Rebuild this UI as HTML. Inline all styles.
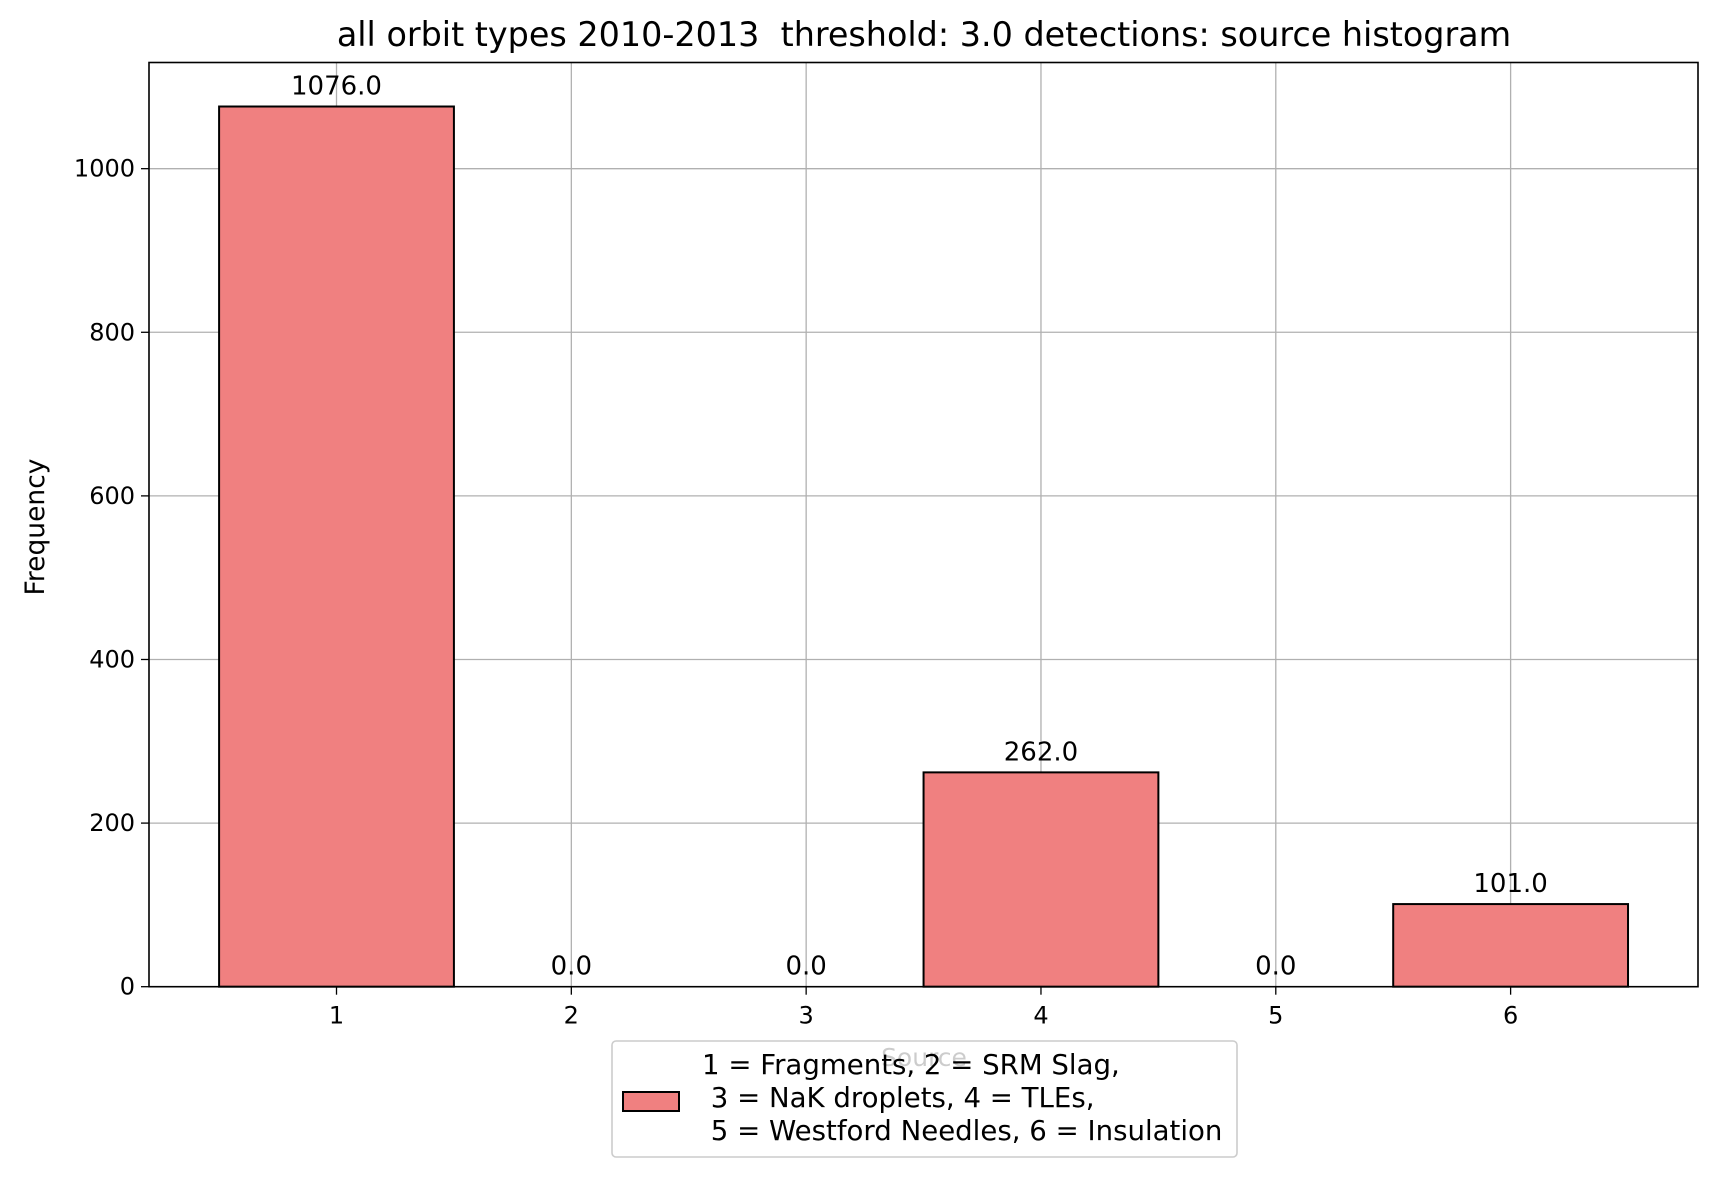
<!DOCTYPE html>
<html><head><meta charset="utf-8"><style>
html,body{margin:0;padding:0;background:#fff;}
svg{display:block;font-family:"DejaVu Sans","Liberation Sans",sans-serif;}
</style></head><body>
<svg id="chart" width="1719" height="1177" viewBox="0 0 1719 1177">
<text x="924" y="46" font-size="33.4" text-anchor="middle" fill="#000" xml:space="preserve">all orbit types 2010-2013  threshold: 3.0 detections: source histogram</text>
<g id="grid"></g>
<g id="bars"></g>
<g id="labels"></g>
<rect x="149" y="62.5" width="1549" height="924.2" fill="none" stroke="#000" stroke-width="1.6"/>
<g id="xticks"></g>
<g id="yticks"></g>
<text transform="translate(44,527) rotate(-90)" font-size="26.5" text-anchor="middle" fill="#000">Frequency</text>
<text x="924" y="1066" font-size="25" text-anchor="middle" fill="#000">Source</text>
<g>
<rect x="612" y="1041" width="625" height="116" rx="4" fill="#fff" fill-opacity="0.8" stroke="#ccc" stroke-width="1.6"/>
<rect x="623" y="1092" width="56" height="19" fill="#f08080" stroke="#000" stroke-width="2"/>
<g font-size="27.6" fill="#000">
<text x="702" y="1074" xml:space="preserve">1 = Fragments, 2 = SRM Slag,</text>
<text x="702" y="1107" xml:space="preserve"> 3 = NaK droplets, 4 = TLEs,</text>
<text x="702" y="1140" xml:space="preserve"> 5 = Westford Needles, 6 = Insulation</text>
</g>
</g>
</svg>
<script>
const categories = [1, 2, 3, 4, 5, 6];
const counts = [1076, 0, 0, 262, 0, 101];
const valueLabels = ["1076.0", "0.0", "0.0", "262.0", "0.0", "101.0"];
const yTicks = [0, 200, 400, 600, 800, 1000];
const xTicks = [1, 2, 3, 4, 5, 6];

const L=149,R=1698,T=62.5,B=986.7;
const xmin=0.2015,xmax=6.798,ymax=1129.8;
const xs=v=>L+(v-xmin)/(xmax-xmin)*(R-L);
const ys=v=>B-v/ymax*(B-T);
const NS="http://www.w3.org/2000/svg";
function mk(tag,attrs,parent){const e=document.createElementNS(NS,tag);for(const k in attrs)e.setAttribute(k,attrs[k]);parent.appendChild(e);return e;}
const grid=document.getElementById('grid'),bars=document.getElementById('bars'),labels=document.getElementById('labels'),xg=document.getElementById('xticks'),yg=document.getElementById('yticks');

categories.forEach((c,i)=>{
  const x0=xs(c-0.5),x1=xs(c+0.5),y=ys(counts[i]);
  const r=mk('rect',{x:x0,y:y,width:x1-x0,height:B-y,fill:'#f08080',stroke:'#000','stroke-width':2},bars);
  
  
  const t=mk('text',{x:xs(c),y:y-12,'font-size':26,'text-anchor':'middle',fill:'#000'},labels);
  t.textContent=valueLabels[i];
  
  
});
xTicks.forEach(v=>{
  const x=xs(v);
  const g=mk('line',{x1:x,x2:x,y1:T,y2:B,stroke:'#b0b0b0','stroke-width':1.3},grid);
  
  
  const tk=mk('line',{x1:x,x2:x,y1:B,y2:B+8,stroke:'#000','stroke-width':1.3},xg);
  
  
  const t=mk('text',{x:x,y:B+37,'font-size':24,'text-anchor':'middle',fill:'#000'},xg);
  t.textContent=v;
  
  
});
yTicks.forEach(v=>{
  const y=ys(v);
  const g=mk('line',{x1:L,x2:R,y1:y,y2:y,stroke:'#b0b0b0','stroke-width':1.3},grid);
  
  
  const tk=mk('line',{x1:L-8,x2:L,y1:y,y2:y,stroke:'#000','stroke-width':1.3},yg);
  
  
  const t=mk('text',{x:L-14,y:y+8,'font-size':24,'text-anchor':'end',fill:'#000'},yg);
  t.textContent=v;
  
  
});
</script>
</body></html>
